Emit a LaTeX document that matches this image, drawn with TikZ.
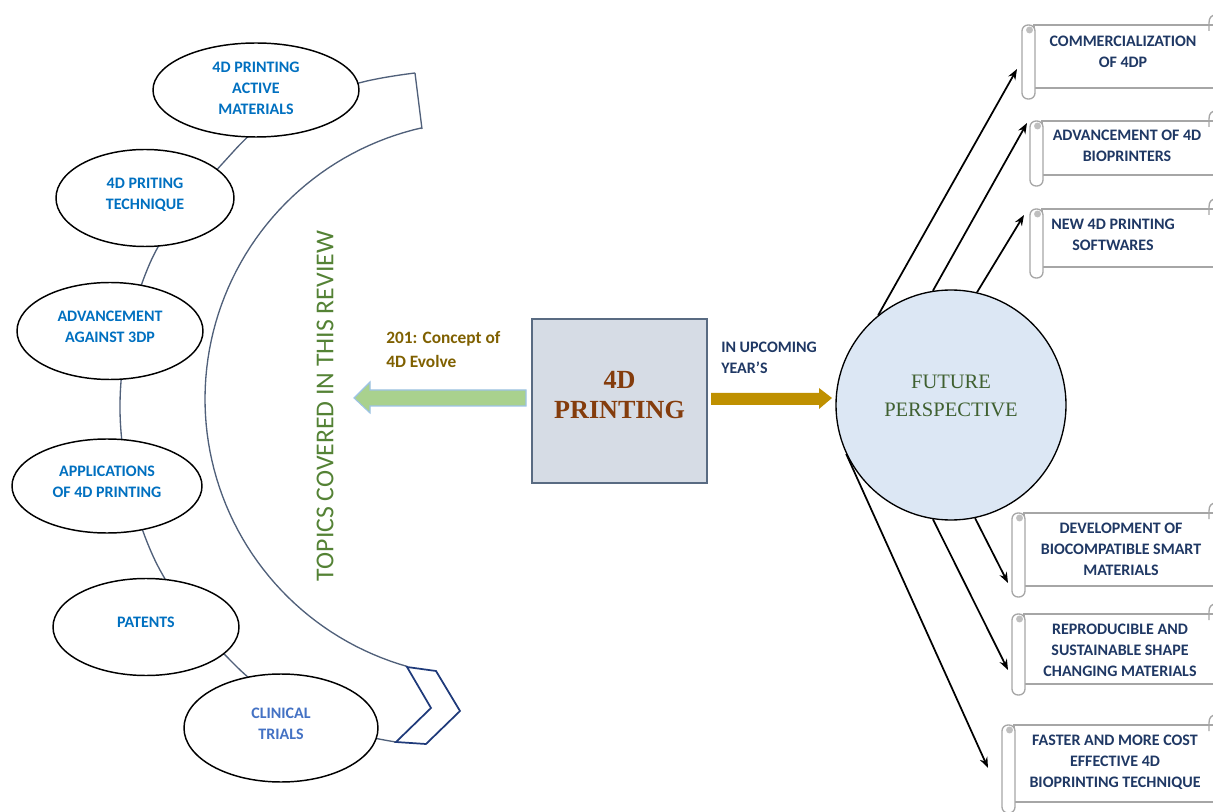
\documentclass[tikz,border=0pt]{standalone}
\usepackage{fontspec}
\setmainfont{Carlito}
\newfontfamily\serifx{Liberation Serif}
\usetikzlibrary{shapes.geometric,arrows.meta}
\definecolor{ellblue}{HTML}{0070C0}
\definecolor{clinblue}{HTML}{4472C4}
\definecolor{navy}{HTML}{1F3864}
\definecolor{goldtext}{HTML}{7F6000}
\definecolor{goldarrow}{HTML}{BF9000}
\definecolor{greenfill}{HTML}{A9D18E}
\definecolor{greenedge}{HTML}{9DC3E6}
\definecolor{topicgreen}{HTML}{548235}
\definecolor{futgreen}{HTML}{3F6030}
\definecolor{brownx}{HTML}{843C0C}
\definecolor{sqfill}{HTML}{D6DCE5}
\definecolor{sqedge}{HTML}{596B82}
\definecolor{circfill}{HTML}{DCE7F4}
\definecolor{bandcol}{HTML}{50607A}
\definecolor{scrollcol}{HTML}{A6A6A6}
\definecolor{curlcol}{HTML}{BFBFBF}
\definecolor{chevcol}{HTML}{1F3A7A}
\newcommand\scrollbox[7]{%
  \draw[scrollline, fill=white] (#2+12,#3) rectangle (1240,#4);
  \draw[scrollline, fill=white, rounded corners=4.5pt] (#2,#3) rectangle (#2+13,#4+11);
  \fill[curlcol] (#2+7.5,#3+5) circle[radius=2.6pt];
  \draw[scrollline] (1216,#3-10) .. controls (1211,#3-10) and (1209,#3-7) .. (1209,#3-2) -- (1209,#3+6);
  \node[scrolltext] (#1) at ({#5},{#6}) {#7};
}
\begin{document}
\begin{tikzpicture}[x=0.75pt,y=-0.75pt,
  lbl/.style={font=\fontsize{12}{15.75}\selectfont\bfseries, align=center},
  topic/.style n args={2}{ellipse, draw=black, line width=1.1pt, fill=white,
     minimum width=#1*0.75pt, minimum height=#2*0.75pt, inner sep=0pt,
     lbl, text=ellblue, text depth=7pt},
  bandline/.style={draw=bandcol, line width=1pt},
  chev/.style={draw=chevcol, line width=1.3pt, fill=white, line join=miter},
  scrollline/.style={draw=scrollcol, line width=1pt},
  scrolltext/.style={lbl, text=navy, inner sep=0pt},
  arr/.style={draw=black, line width=1.3pt, -{Stealth[length=8pt,width=6pt]}},
  ]
\useasboundingbox (0,0) rectangle (1213,812);
\begin{scope}
\clip (0,0) rectangle (1213,812);

% curved band behind the topic ellipses
\draw[bandline] plot[smooth, tension=0.6] coordinates {(415,73) (359,83) (290,108) (233,152) (150,263) (120,410) (153,556) (236,666) (320,722) (396,742)};
\draw[bandline] (415,73) -- (422,129);
\draw[bandline] plot[domain=102.7:254.2, samples=80] ({483+278*cos(\x)},{399-278*sin(\x)});

% topic ellipses
\node[topic={206}{94}, text depth=2pt] (e1) at (256,90) {4D PRINTING\\ACTIVE\\MATERIALS};
\node[topic={178}{97}] (e2) at (145,198) {4D PRITING\\TECHNIQUE};
\node[topic={186}{97}] (e3) at (110,331) {ADVANCEMENT\\AGAINST 3DP};
\node[topic={190}{94}] (e4) at (107,486) {APPLICATIONS\\OF 4D PRINTING};
\node[topic={186}{97}] (e5) at (146,627) {PATENTS};
\node[topic={194}{108}, text=clinblue] (e6) at (281,728) {CLINICAL\\TRIALS};

% chevron arrow head of the band
\draw[chev] (407,667) -- (436,671) -- (460,711) -- (426,744) -- (396,742) -- (431,708) -- cycle;

% rotated title
\node[rotate=90, font=\fontsize{19.3}{23}\selectfont, text=topicgreen] (topics) at (325,406) {TOPICS COVERED IN THIS REVIEW};

% central square
\node[draw=sqedge, line width=1.4pt, fill=sqfill, minimum width=175*0.75pt, minimum height=164*0.75pt,
      align=center, text=brownx, font=\serifx\bfseries\fontsize{19.6}{22.5}\selectfont, text depth=9pt] (core) at (619.5,401) {4D\\PRINTING};

% green arrow to the left
\draw[draw=greenedge, line width=0.8pt, fill=greenfill] (354,398) -- (370,382) -- (370,390) -- (526,390) -- (526,406) -- (370,406) -- (370,413) -- cycle;
\node[font=\fontsize{13}{18}\selectfont\bfseries, text=goldtext, align=left, anchor=west, inner sep=0pt] (concept) at (386,350) {201: Concept of\\4D Evolve};

% gold arrow to the right
\fill[goldarrow] (711,393) -- (819,393) -- (819,388) -- (832,398) -- (819,409) -- (819,405) -- (711,405) -- cycle;
\node[lbl, text=navy, align=left, anchor=west, inner sep=0pt] (upcoming) at (721,357.5) {IN UPCOMING\\YEAR’S};

% future perspective circle
\node[circle, draw=black, line width=1pt, fill=circfill, minimum size=230*0.75pt, align=center,
      text=futgreen, font=\serifx\fontsize{15.4}{21}\selectfont, text depth=13.5pt] (fp) at (951,405) {FUTURE\\PERSPECTIVE};

% scrolls
\scrollbox{s1}{1022}{25}{88}{1123}{51.5}{COMMERCIALIZATION\\OF 4DP}
\scrollbox{s2}{1030}{121}{175}{1127}{146}{ADVANCEMENT OF 4D\\BIOPRINTERS}
\scrollbox{s3}{1030}{209}{267}{1113}{234.5}{NEW 4D PRINTING\\SOFTWARES}
\scrollbox{s4}{1012}{513}{586}{1121}{549}{DEVELOPMENT OF\\BIOCOMPATIBLE SMART\\MATERIALS}
\scrollbox{s5}{1012}{614}{684}{1120}{650}{REPRODUCIBLE AND\\SUSTAINABLE SHAPE\\CHANGING MATERIALS}
\scrollbox{s6}{1002}{725}{802}{1115}{762.5}{FASTER AND MORE COST\\EFFECTIVE 4D\\BIOPRINTING TECHNIQUE}

% arrow targets
\coordinate (t1) at (1017,69);
\coordinate (t2) at (1027,123);
\coordinate (t3) at (1024,215);
\coordinate (t4) at (1008,583);
\coordinate (t5) at (1008,670);
\coordinate (t6) at (988,768);

\draw[arr] (fp.129.7) -- (t1);
\draw[arr] (fp.99.5) -- (t2);
\draw[arr] (fp.77.7) -- (t3);
\draw[arr] (fp.282) -- (t4);
\draw[arr] (fp.261) -- (t5);
\draw[arr] (fp.205) -- (t6);
\end{scope}
\end{tikzpicture}
\end{document}
